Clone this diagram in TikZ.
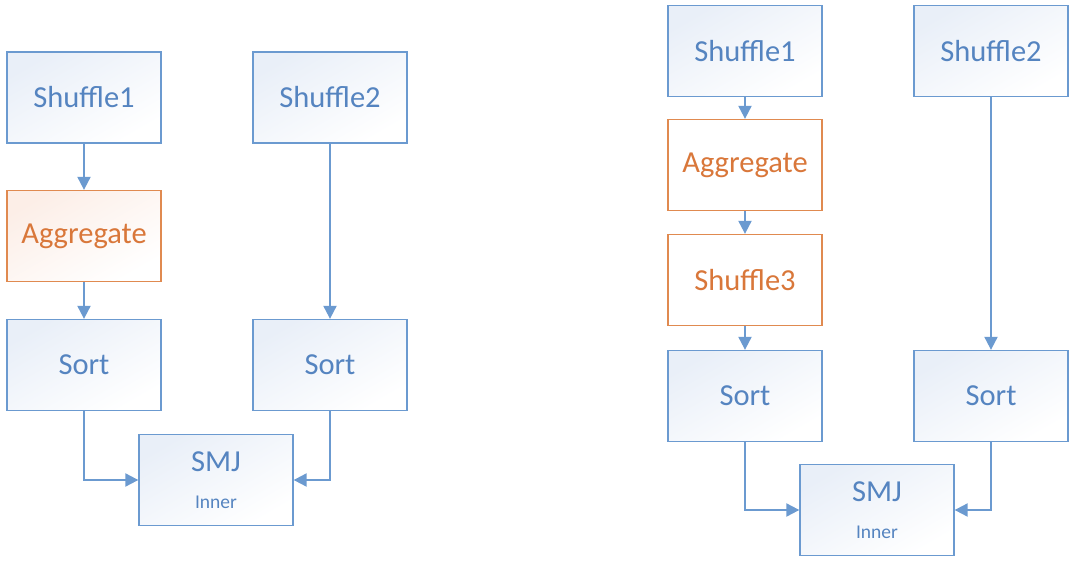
\documentclass[tikz,border=0pt]{standalone}
\usepackage{fontspec}
\setmainfont{Carlito}
\usetikzlibrary{arrows.meta}
\definecolor{bluetxt}{HTML}{5584C0}
\definecolor{blueline}{HTML}{6B9AD0}
\definecolor{bluefill}{HTML}{E9EFF8}
\definecolor{orgtxt}{HTML}{D9773A}
\definecolor{orgline}{HTML}{E08A50}
\definecolor{orgfill}{HTML}{FCEEE7}
\begin{document}
\begin{tikzpicture}[x=1pt, y=1pt,
  fillshade/.style={top color=#1, bottom color=white, shading angle=30},
  box/.style={draw=blueline, line width=1.3pt, text=bluetxt,
    fillshade=bluefill,
    minimum width=154pt, minimum height=91pt, inner sep=0pt,
    font=\fontsize{30.5}{34}\selectfont, align=center},
  obox/.style={box, draw=orgline, text=orgtxt, fillshade=orgfill},
  wbox/.style={draw=orgline, line width=1.3pt, text=orgtxt, fill=white,
    minimum width=154pt, minimum height=91pt, inner sep=0pt,
    font=\fontsize{30.5}{34}\selectfont},
  arr/.style={draw=blueline, line width=2pt,
    -{Triangle[width=13pt,length=13pt]}}]
  \useasboundingbox (0,0) rectangle (1080,-562);
  % left plan
  \node[box] (ls1) at (84,-97.5) {Shuffle1};
  \node[box] (ls2) at (330,-97.5) {Shuffle2};
  \node[obox] (lagg) at (84,-236) {Aggregate};
  \node[box] (lsort1) at (84,-365) {Sort};
  \node[box] (lsort2) at (330,-365) {Sort};
  \node[box] (lsmj) at (216,-480) {SMJ\\[3pt]{\fontsize{19.5}{22}\selectfont Inner}};
  \draw[arr] (ls1) -- (lagg);
  \draw[arr] (lagg) -- (lsort1);
  \draw[arr] (ls2) -- (lsort2);
  \draw[arr] (lsort1) |- (lsmj);
  \draw[arr] (lsort2) |- (lsmj);
  % right plan
  \node[box] (rs1) at (745,-51) {Shuffle1};
  \node[box] (rs2) at (991,-51) {Shuffle2};
  \node[wbox] (ragg) at (745,-165) {Aggregate};
  \node[wbox] (rs3) at (745,-280) {Shuffle3};
  \node[box] (rsort1) at (745,-396) {Sort};
  \node[box] (rsort2) at (991,-396) {Sort};
  \node[box] (rsmj) at (877,-510) {SMJ\\[3pt]{\fontsize{19.5}{22}\selectfont Inner}};
  \draw[arr] (rs1) -- (ragg);
  \draw[arr] (ragg) -- (rs3);
  \draw[arr] (rs3) -- (rsort1);
  \draw[arr] (rs2) -- (rsort2);
  \draw[arr] (rsort1) |- (rsmj);
  \draw[arr] (rsort2) |- (rsmj);
\end{tikzpicture}
\end{document}
